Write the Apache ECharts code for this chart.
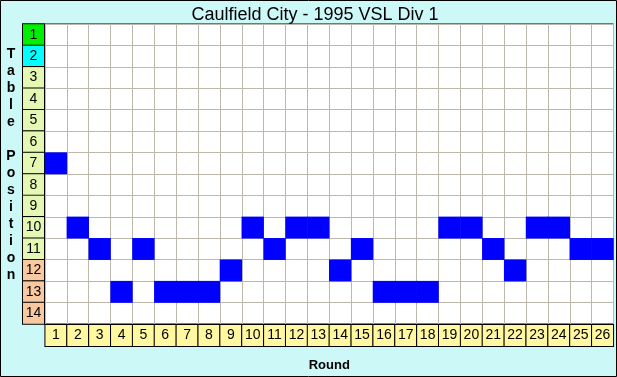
<!DOCTYPE html>
<html>
<head>
<meta charset="utf-8">
<script src="https://cdn.jsdelivr.net/npm/echarts@6/dist/echarts.min.js"></script>
<style>
html,body{margin:0;padding:0;background:#fff;}
#c{width:617px;height:377px;}
</style>
</head>
<body>
<div id="c"></div>
<script>
var titleText = 'Caulfield City - 1995 VSL Div 1';
var rounds = ['1','2','3','4','5','6','7','8','9','10','11','12','13','14','15','16','17','18','19','20','21','22','23','24','25','26'];
var positionLabels = ['1','2','3','4','5','6','7','8','9','10','11','12','13','14'];
var tablePosition = [7,10,11,13,11,13,13,13,12,10,11,10,10,12,11,13,13,13,10,10,11,12,10,10,11,11];
var yAxisTitle = 'Table Position';
var xAxisTitle = 'Round';

var font = '"Liberation Sans", Arial, sans-serif';
function cell(bg) {
  return {backgroundColor: bg, borderColor: '#000', borderWidth: 1, width: 21, height: 21, lineHeight: 21,
          align: 'center', verticalAlign: 'middle', fontSize: 14, fontFamily: font, color: '#000'};
}
var heatData = tablePosition.map(function (p, i) { return [i, p - 1, 1]; });

var chart = echarts.init(document.getElementById('c'), null, {renderer: 'canvas'});
chart.setOption({
  backgroundColor: '#cdf8f8',
  animation: false,
  title: {
    text: titleText, left: 310, top: 1, textAlign: 'center',
    textStyle: {fontFamily: font, fontSize: 18, fontWeight: 'normal', color: '#000'}
  },
  grid: {left: 45, top: 24, width: 572, height: 308, show: true, backgroundColor: '#fff', borderColor: '#000', borderWidth: 1},
  xAxis: {
    type: 'category', data: rounds,
    axisLine: {show: false}, axisTick: {show: false},
    splitLine: {show: true, lineStyle: {color: '#bcb8ac', width: 1}},
    name: xAxisTitle, nameLocation: 'middle', nameGap: 35,
    nameTextStyle: {fontFamily: font, fontSize: 13, fontWeight: 'bold', color: '#000'},
    axisLabel: {
      margin: 1, interval: 0,
      formatter: function (v) { return '{x|' + v + '}'; },
      rich: {x: cell('#fff8a0')}
    }
  },
  yAxis: {
    type: 'category', data: positionLabels, inverse: true,
    axisLine: {show: false}, axisTick: {show: false},
    splitLine: {show: true, lineStyle: {color: '#bcb8ac', width: 1}},
    axisLabel: {
      margin: 1, interval: 0,
      formatter: function (v) {
        var n = +v;
        var k = n === 1 ? 'a' : n === 2 ? 'b' : n <= 11 ? 'c' : 'd';
        return '{' + k + '|' + v + '}';
      },
      rich: {a: cell('#00ee00'), b: cell('#00ffff'), c: cell('#e4f8b4'), d: cell('#f8c8a0')}
    }
  },
  series: [{
    type: 'heatmap', data: heatData,
    itemStyle: {color: '#0000ff'},
    emphasis: {disabled: true}
  }],
  graphic: [
    {type: 'text', x: 11, y: 46, style: {
      text: yAxisTitle.split('').map(function (ch) { return ch === ' ' ? '' : ch; }).join('\n'),
      fontFamily: font, fontSize: 14, fontWeight: 'bold', lineHeight: 17, fill: '#000', align: 'center'
    }},
    {type: 'rect', shape: {x: 0.5, y: 0.5, width: 616, height: 376}, style: {fill: null, stroke: '#000', lineWidth: 1}, z: 100}
  ]
});
</script>
</body>
</html>
